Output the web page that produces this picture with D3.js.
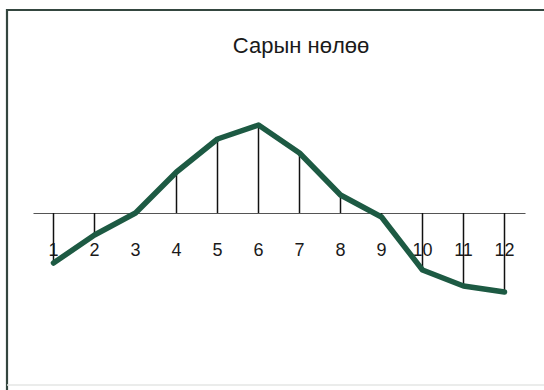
<!DOCTYPE html>
<html>
<head>
<meta charset="utf-8">
<script src="https://cdn.jsdelivr.net/npm/d3@7"></script>
<style>
  html, body { margin: 0; padding: 0; background: #fff; }
  svg { display: block; }
  text { font-family: "Liberation Sans", Arial, sans-serif; fill: #1a1a1a; }
</style>
</head>
<body>
<svg id="chart" width="544" height="390"></svg>
<script>
const title = "Сарын нөлөө";
const months = ["1","2","3","4","5","6","7","8","9","10","11","12"];
const effects = [-5.0, -2.2, 0.0, 4.1, 7.4, 8.8, 6.0, 1.8, -0.4, -5.7, -7.3, -7.9];
const yDomain = [-10, 10];

const svg = d3.select("#chart");

// frame
svg.append("line").attr("x1", 6).attr("x2", 544).attr("y1", 10).attr("y2", 10)
  .attr("stroke", "#34463f").attr("stroke-width", 2.2);
svg.append("line").attr("x1", 7).attr("x2", 7).attr("y1", 9).attr("y2", 390)
  .attr("stroke", "#34463f").attr("stroke-width", 2.2);
svg.append("line").attr("x1", 7).attr("x2", 544).attr("y1", 385).attr("y2", 385)
  .attr("stroke", "#e4e6e4").attr("stroke-width", 1.5);

const x = d3.scaleBand().domain(months).range([33, 525]);
const y = d3.scaleLinear().domain(yDomain).range([313, 113]);
const cx = m => x(m) + x.bandwidth() / 2;

// title
svg.append("text").attr("x", 301).attr("y", 53).attr("text-anchor", "middle")
  .attr("font-size", 22).text(title);

// zero axis
const axis = d3.axisBottom(x).tickSize(0).tickPadding(0);
const gAxis = svg.append("g").attr("transform", `translate(0,${y(0)})`).call(axis);
gAxis.select(".domain").attr("stroke", "#555").attr("stroke-width", 1.2);
gAxis.selectAll(".tick text")
  .attr("font-size", 18)
  .attr("font-family", "Liberation Sans, Arial, sans-serif")
  .attr("fill", "#1a1a1a")
  .attr("dy", 0)
  .attr("y", 43);

const data = months.map((m, i) => ({ m, v: effects[i] }));

// drop lines
svg.append("g").selectAll("line").data(data).join("line")
  .attr("x1", d => cx(d.m)).attr("x2", d => cx(d.m))
  .attr("y1", y(0)).attr("y2", d => y(d.v))
  .attr("stroke", "#111").attr("stroke-width", 1.5);

// effect line
const line = d3.line().x(d => cx(d.m)).y(d => y(d.v));
svg.append("path").datum(data)
  .attr("d", line)
  .attr("fill", "none")
  .attr("stroke", "#1d5a43")
  .attr("stroke-width", 5.5)
  .attr("stroke-linejoin", "round")
  .attr("stroke-linecap", "round");
</script>
</body>
</html>
